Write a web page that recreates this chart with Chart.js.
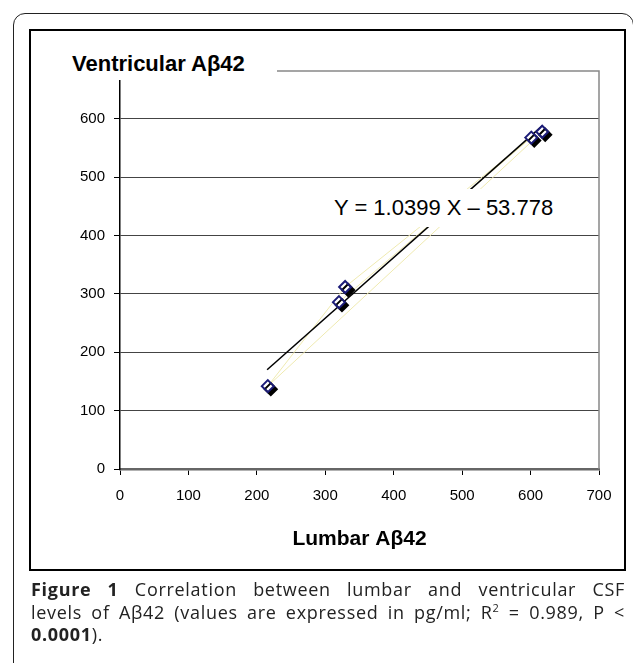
<!DOCTYPE html>
<html>
<head>
<meta charset="utf-8">
<script src="https://cdn.jsdelivr.net/npm/chart.js@4.4.0/dist/chart.umd.min.js"></script>
<style>
  html, body { margin: 0; padding: 0; background: #fff; }
  body { width: 633px; height: 663px; position: relative; overflow: hidden; }
  #outer { position: absolute; left: 13px; top: 13px; width: 618.5px; height: 720px;
           border: 1.5px solid #222; border-radius: 12px; }
  #box { position: absolute; left: 29px; top: 29px; width: 593px; height: 538px;
         border: 2px solid #000; }
  #chart { position: absolute; left: 0; top: 0; }
  #ytitle { position: absolute; left: 66px; top: 51px; padding: 0 32px 0 6px; background: #fff;
            font: bold 22px 'Liberation Sans', Arial, sans-serif; line-height: 25px; color: #000; }
  #eq { position: absolute; left: 330px; top: 189px; padding: 5px 6px 6px 4px; background: #fff;
        font: 22px 'Liberation Sans', Arial, sans-serif; line-height: 27px; color: #000; }
  #caption { position: absolute; left: 31px; top: 578px; width: 594px;
             font: 18px 'Open Sans', sans-serif; letter-spacing: 0.7px; line-height: 22.5px; color: #222; }
  #caption .jl { text-align: justify; text-align-last: justify; }
  #caption sup { font-size: 11px; line-height: 0; }
</style>
</head>
<body>
<div id="outer"></div>
<div id="box"></div>
<canvas id="chart" width="633" height="663"></canvas>
<div id="ytitle">Ventricular Aβ42</div>
<div id="eq">Y = 1.0399 X – 53.778</div>
<div id="caption">
  <div class="jl"><b>Figure 1</b> Correlation between lumbar and ventricular CSF</div>
  <div class="jl">levels of Aβ42 (values are expressed in pg/ml; R<sup>2</sup> = 0.989, P &lt;</div>
  <div><b>0.0001</b>).</div>
</div>
<script>
// values (pg/ml)
const lumbar = [617, 216, 329, 601, 320];
const ventricular = [578, 142, 312, 568, 286];

// regression line end points
const trendX = [215, 617];
const trendY = [170, 588];

// tick labels
const xTickValues = [0, 100, 200, 300, 400, 500, 600, 700];
const yTickValues = [0, 100, 200, 300, 400, 500, 600];

const points = lumbar.map((x, i) => ({ x: x, y: ventricular[i] }));
const trend = trendX.map((x, i) => ({ x: x, y: trendY[i] }));

const tickFont = { family: "'Liberation Sans Narrow', 'Arial Narrow', 'Liberation Sans', sans-serif", size: 15 };
const titleFont = { family: "'Liberation Sans', Arial, sans-serif", size: 21, weight: 'bold' };

// black drop shadow under the diamond markers
const markerShadow = {
    id: 'markerShadow',
    beforeDatasetDraw(chart, args) {
        if (args.index !== 0) return;
        const ctx = chart.ctx;
        ctx.save();
        ctx.shadowColor = '#000';
        ctx.shadowOffsetX = 3;
        ctx.shadowOffsetY = 3;
        ctx.shadowBlur = 0;
    },
    afterDatasetDraw(chart, args) {
        if (args.index === 0) chart.ctx.restore();
    }
};

// grey plot frame on top and right
const plotFrame = {
    id: 'plotFrame',
    beforeDatasetsDraw(chart) {
        const { ctx, chartArea } = chart;
        ctx.save();
        ctx.strokeStyle = '#888';
        ctx.lineWidth = 1.5;
        ctx.beginPath();
        ctx.moveTo(chartArea.left, chartArea.top - 10);
        ctx.lineTo(chartArea.right, chartArea.top - 10);
        ctx.lineTo(chartArea.right, chartArea.bottom);
        ctx.stroke();
        ctx.restore();
    }
};

new Chart(document.getElementById('chart'), {
    type: 'scatter',
    data: {
        datasets: [
            {
                label: 'Patients',
                data: points,
                pointStyle: 'rectRot',
                pointRadius: 6,
                borderWidth: 2,
                borderColor: '#1c1c78',
                backgroundColor: '#fff'
            },
            {
                label: 'Trend',
                data: trend,
                showLine: true,
                borderColor: '#000',
                borderWidth: 1.5,
                pointRadius: 0
            },
            {
                label: 'Series',
                data: points,
                showLine: true,
                borderColor: '#efeab0',
                borderWidth: 1,
                pointRadius: 0
            }
        ]
    },
    options: {
        responsive: false,
        animation: false,
        layout: { padding: { left: 0, right: 34, top: 81, bottom: 0 } },
        plugins: {
            legend: { display: false },
            tooltip: { enabled: false }
        },
        scales: {
            x: {
                type: 'linear',
                min: 0,
                max: 700,
                afterBuildTicks: s => { s.ticks = xTickValues.map(v => ({ value: v })); },
                afterFit: s => { s.height = 194; },
                border: { color: '#666', width: 2.5 },
                grid: { drawOnChartArea: false, color: '#000', tickLength: 6 },
                ticks: { padding: 12, font: tickFont, color: '#000', maxRotation: 0 },
                title: {
                    display: true,
                    text: 'Lumbar Aβ42',
                    font: titleFont,
                    color: '#000',
                    padding: { top: 0, bottom: 111 }
                }
            },
            y: {
                type: 'linear',
                min: 0,
                max: 665,
                afterBuildTicks: s => { s.ticks = yTickValues.map(v => ({ value: v })); },
                afterFit: s => { s.width = 120; },
                border: { color: '#000', width: 1.5 },
                grid: { color: '#444', tickColor: '#000', tickLength: 6 },
                ticks: { padding: 9, font: tickFont, color: '#000' }
            }
        }
    },
    plugins: [markerShadow, plotFrame]
});
</script>
</body>
</html>
